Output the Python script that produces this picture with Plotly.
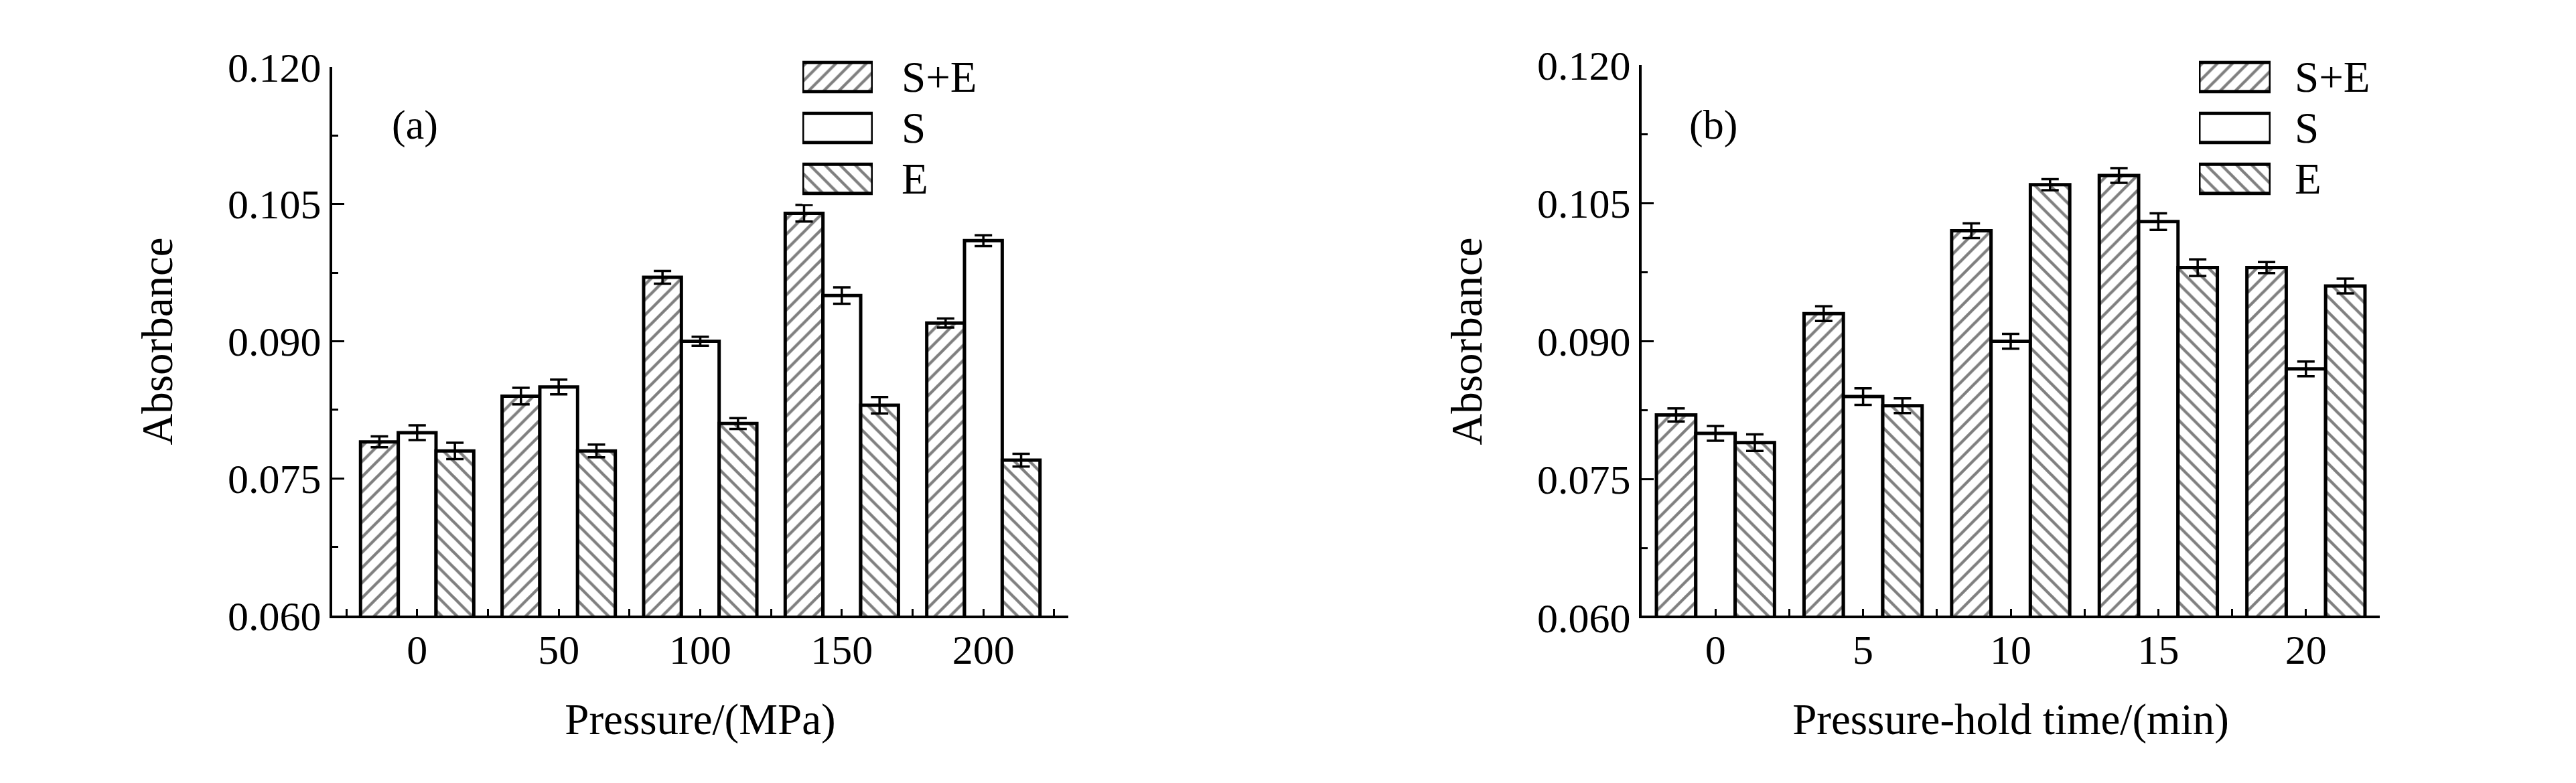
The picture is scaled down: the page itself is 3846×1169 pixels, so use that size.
import plotly.graph_objects as go

# ---------------- data ----------------
series = ["S+E", "S", "E"]
pressure_labels = ["0", "50", "100", "150", "200"]
time_labels = ["0", "5", "10", "15", "20"]

a_se = [0.079, 0.084, 0.097, 0.104, 0.092]
a_s = [0.080, 0.085, 0.090, 0.095, 0.101]
a_e = [0.078, 0.078, 0.081, 0.083, 0.077]
a_se_err = [0.0006, 0.0009, 0.0007, 0.0009, 0.0005]
a_s_err = [0.0008, 0.0008, 0.0005, 0.0009, 0.0006]
a_e_err = [0.0009, 0.0007, 0.0006, 0.0009, 0.0007]

b_se = [0.082, 0.093, 0.102, 0.108, 0.098]
b_s = [0.080, 0.084, 0.090, 0.103, 0.087]
b_e = [0.079, 0.083, 0.107, 0.098, 0.096]
b_se_err = [0.0007, 0.0008, 0.0008, 0.0008, 0.0006]
b_s_err = [0.0008, 0.0009, 0.0008, 0.0009, 0.0008]
b_e_err = [0.0009, 0.0008, 0.0006, 0.0009, 0.0008]

y_ticks = [0.060, 0.075, 0.090, 0.105, 0.120]

# ---------------- styling ----------------
W, H = 3846, 1169
FONT = "Liberation Serif"
patterns = {"S+E": "/", "S": "", "E": "\\"}
PAT_SIZE = 16
PAT_SOL = 0.27
LINE_W = 5


def fx(p):
    return p / W


def fy(p):
    return 1 - p / H


fig = go.Figure()


def add_panel(xa, ya, labels, vals, errs):
    xs = list(range(len(labels)))
    for name, v, e in zip(series, vals, errs):
        fig.add_trace(go.Bar(
            x=xs, y=v, name=name, xaxis=xa, yaxis=ya, showlegend=False,
            marker=dict(color="white", line=dict(color="black", width=LINE_W),
                        pattern=dict(shape=patterns[name], fgcolor="black", bgcolor="white",
                                     size=PAT_SIZE, solidity=PAT_SOL, fillmode="overlay")),
            error_y=dict(type="data", array=e, visible=True, color="black",
                         thickness=3.5, width=13),
        ))


add_panel("x", "y", pressure_labels, [a_se, a_s, a_e], [a_se_err, a_s_err, a_e_err])
add_panel("x2", "y2", time_labels, [b_se, b_s, b_e], [b_se_err, b_s_err, b_e_err])

# legend swatches as bars on small auxiliary axes
for xa, ya in (("x3", "y3"), ("x4", "y4")):
    fig.add_trace(go.Bar(
        x=[1, 1, 1], y=series, orientation="h", xaxis=xa, yaxis=ya, showlegend=False,
        width=0.57,
        marker=dict(color="white", line=dict(color="black", width=LINE_W),
                    pattern=dict(shape=[patterns[s] for s in series], fgcolor="black",
                                 bgcolor="white", size=PAT_SIZE, solidity=PAT_SOL,
                                 fillmode="overlay")),
        hoverinfo="skip",
    ))

tickfont = dict(family=FONT, size=62, color="black")
titlefont = dict(family=FONT, size=65, color="black")


def xaxis_cfg(domain, rng, labels, title):
    n = len(labels)
    return dict(
        domain=domain, range=rng, showline=True, linecolor="black", linewidth=4,
        automargin=False,
        tickmode="array", tickvals=list(range(n)), ticktext=labels,
        ticks="inside", ticklen=10, tickwidth=3, tickcolor="black",
        ticklabelstandoff=-6,
        minor=dict(tickmode="array", tickvals=[i - 0.5 for i in range(n + 1)],
                   ticks="inside", ticklen=10, tickwidth=3, tickcolor="black"),
        showgrid=False, zeroline=False, tickfont=tickfont,
        title=dict(text=title, font=titlefont, standoff=48),
    )


def yaxis_cfg(domain, anchor):
    return dict(
        domain=domain, range=[0.060, 0.120], anchor=anchor, automargin=False,
        showline=True, linecolor="black", linewidth=4,
        tickmode="array", tickvals=y_ticks, tickformat=".3f",
        ticks="inside", ticklen=18, tickwidth=3, tickcolor="black",
        minor=dict(tickmode="linear", tick0=0.060, dtick=0.0075,
                   ticks="inside", ticklen=9, tickwidth=3, tickcolor="black"),
        showgrid=False, zeroline=False, tickfont=tickfont,
        title=dict(text="Absorbance", font=titlefont, standoff=62),
    )


def legend_x(domain, anchor):
    return dict(domain=domain, range=[0, 1], anchor=anchor, visible=False,
                fixedrange=True, automargin=False)


def legend_y(domain, anchor):
    return dict(domain=domain, range=[2.5, -0.5], anchor=anchor, visible=False,
                categoryorder="array", categoryarray=series, fixedrange=True,
                automargin=False)


# legend text positions (pixel) -> annotations
legend_text = []
for x_text in (1336, 3416):
    for i, s in enumerate(series):
        legend_text.append(dict(
            text=s, x=fx(x_text), y=fy(107 + 76 * i), xref="paper", yref="paper",
            xanchor="left", yanchor="middle", showarrow=False,
            font=dict(family=FONT, size=65, color="black")))

fig.update_layout(
    template="none",
    width=W, height=H,
    margin=dict(l=0, r=0, t=0, b=0, autoexpand=False),
    paper_bgcolor="white", plot_bgcolor="white",
    barmode="group", bargap=0.2, bargroupgap=0,
    font=dict(family=FONT, color="black"),
    xaxis=xaxis_cfg([fx(488), fx(1587)], [-0.6, 4.6], pressure_labels, "Pressure/(MPa)"),
    yaxis=yaxis_cfg([fy(911), fy(92)], "x"),
    xaxis2=xaxis_cfg([fx(2443), fx(3545)], [-0.5, 4.5], time_labels, "Pressure-hold time/(min)"),
    yaxis2=yaxis_cfg([fy(914), fy(89)], "x2"),
    xaxis3=legend_x([fx(1190), fx(1295)], "y3"),
    yaxis3=legend_y([fy(297), fy(69)], "x3"),
    xaxis4=legend_x([fx(3275), fx(3382)], "y4"),
    yaxis4=legend_y([fy(297), fy(69)], "x4"),
    annotations=[
        dict(text="(a)", x=fx(575), y=fy(142), xref="paper", yref="paper",
             showarrow=False, font=dict(family=FONT, size=62, color="black")),
        dict(text="(b)", x=fx(2550), y=fy(142), xref="paper", yref="paper",
             showarrow=False, font=dict(family=FONT, size=62, color="black")),
    ] + legend_text,
)

fig.write_html("out.html")
